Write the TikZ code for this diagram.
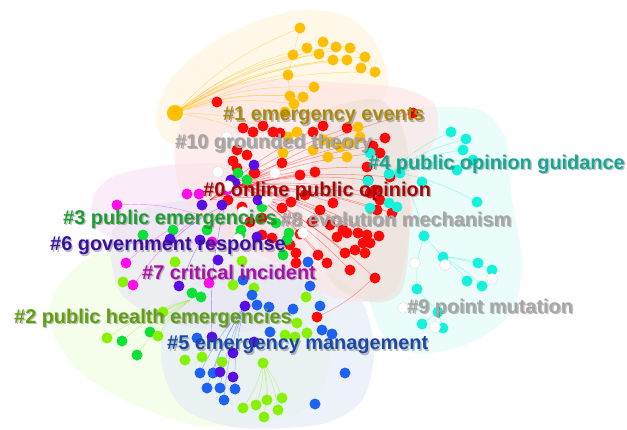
\documentclass[tikz,border=0pt]{standalone}
\usepackage{fontspec}
\setmainfont{Liberation Sans}
\usetikzlibrary{calc}
% cluster colours
\definecolor{cOrange}{HTML}{FFBE00}
\definecolor{cRed}{HTML}{FF0A0A}
\definecolor{cCyan}{HTML}{14F2DC}
\definecolor{cGreen}{HTML}{0EE03A}
\definecolor{cLime}{HTML}{86F200}
\definecolor{cBlue}{HTML}{1E62F2}
\definecolor{cPurple}{HTML}{5A0EE6}
\definecolor{cMagenta}{HTML}{FF0EEA}
% hull colours
\definecolor{hOrange}{HTML}{FFF3D8}
\definecolor{hRed}{HTML}{FCE2E2}
\definecolor{hBeige}{HTML}{EAE0D8}
\definecolor{hCyan}{HTML}{DEFCF7}
\definecolor{hMagenta}{HTML}{F8E2F6}
\definecolor{hPurple}{HTML}{E8E4F2}
\definecolor{hLime}{HTML}{EFFDDF}
\definecolor{hBlue}{HTML}{E2EAF8}
% label colours
\definecolor{lOrange}{HTML}{A88A10}
\definecolor{lGray}{HTML}{A6A6A6}
\definecolor{lTeal}{HTML}{12A894}
\definecolor{lRed}{HTML}{A80606}
\definecolor{lGreen}{HTML}{1C9E30}
\definecolor{lIndigo}{HTML}{3A0EA2}
\definecolor{lMagenta}{HTML}{AC0EAC}
\definecolor{lLime}{HTML}{5EA010}
\definecolor{lBlue}{HTML}{1A48A8}
\tikzset{
  hull/.style={fill=#1, fill opacity=0.6, draw=none},
  edge/.style={draw=#1, line width=0.45pt, draw opacity=0.45},
  clusterlabel/.style={anchor=west, inner sep=0pt, text=#1,
    font=\bfseries\fontsize{19.9}{20}\selectfont},
  labelshadow/.style={anchor=west, inner sep=0pt, text=black, text opacity=0.25,
    font=\bfseries\fontsize{19.9}{20}\selectfont},
}
\newcommand\nodedots[2]{\foreach \x/\y in {#2} \fill[#1] (\x,\y) circle[radius=5.5pt];}
\newcommand\whitedots[1]{\foreach \x/\y in {#1} \filldraw[fill=white, draw=black!12, line width=0.4pt] (\x,\y) circle[radius=5.5pt];}
% fan of links from one hub: colour, hub, bend, list of ends
\newcommand\fan[4]{\foreach \x/\y in {#4} \draw[edge=#1] (#2) to[#3] (\x,\y);}
\newcommand\labelat[4]{%
  \node[labelshadow] at ($(#1)+(1.4,1.4)$) {#4};
  \node[clusterlabel=#3] (#2) at (#1) {#4};}
\begin{document}
\begin{tikzpicture}[x=1pt,y=-1pt]
\fill[white] (0,0) rectangle (627,429);
\useasboundingbox (0,0) rectangle (627,429);

% ---- cluster hulls ----
\fill[hull=hLime] plot[smooth cycle] coordinates {(55,292) (92,256) (160,248) (250,258) (312,280) (332,330) (322,392) (282,420) (200,426) (128,402) (78,370) (52,330)};
\fill[hull=hBlue] plot[smooth cycle] coordinates {(165,312) (200,280) (262,265) (322,270) (362,302) (374,352) (362,400) (322,424) (240,428) (185,410) (163,370)};
\fill[hull=hOrange] plot[smooth cycle] coordinates {(156,118) (170,80) (210,44) (260,20) (305,10) (346,16) (374,40) (388,76) (382,100) (350,110) (300,116) (250,126) (208,142) (168,142)};
\fill[hull=hCyan] plot[smooth cycle] coordinates {(360,122) (420,108) (480,110) (506,140) (512,200) (522,262) (512,312) (472,342) (420,354) (384,336) (367,290) (361,230) (350,170)};
\fill[hull=hMagenta] plot[smooth cycle] coordinates {(92,202) (110,178) (160,166) (230,164) (282,180) (302,214) (282,246) (220,252) (150,246) (100,232)};
\fill[hull=hPurple] plot[smooth cycle] coordinates {(112,232) (150,206) (220,200) (292,214) (306,262) (292,312) (240,332) (170,322) (120,292)};
\fill[hull=hRed] plot[smooth cycle] coordinates {(200,94) (260,80) (330,82) (400,88) (434,104) (437,136) (420,166) (410,230) (396,290) (360,302) (320,292) (290,270) (250,250) (210,226) (180,190) (176,140)};
\fill[hull=hBeige, fill opacity=0.55] plot[smooth cycle] coordinates {(322,112) (380,100) (406,140) (410,220) (402,290) (372,302) (332,282) (314,222) (312,152)};

% ---- links ----
\fan{cOrange}{175,113}{bend left=12}{300/28,293/55,307/48,288/75,336/47,319/54,333/60,347/60,350/48,290/96,303/97,365/57,375/72,314/87,294/104,283/153,288/137}
\draw[edge=cOrange] (300,28) -- (293,55) -- (288,75) -- (290,96);
\draw[edge=cOrange] (323,42) -- (350,48) -- (365,57) -- (375,72);
\fan{cRed}{240,185}{bend left=8}{385/138,373/146,380/153,367/167,368/180,370/193,380/200,390/177,333/203,347/233,358/233,367/235,379/236,345/253,350/270,375/278,377/210,392/213,327/263,318/255,413/113}
\fan{cRed}{210,200}{bend left=8}{300/175,315/172,282/163,323/126,347/128,291/202}
\draw[edge=cRed] (374,277) to[bend left=10] (317,317);
\fan{cCyan}{389,174}{bend left=10}{451/132,466/139,463/150,473/160,457/170}
\fan{cCyan}{400,173}{bend left=8}{477/202,424/236,370/208}
\fan{cCyan}{443,257}{bend left=8}{478/263,492/270,467/281,482/286}
\draw[edge=cCyan] (424,236) -- (443,257);
\draw[edge=cCyan] (417,289) -- (438,312) -- (422,324);
\draw[edge=cCyan] (438,312) -- (443,328);
\draw[edge=cCyan] (424,236) to[bend right=10] (417,289);
\fan{cLime}{263,363}{bend left=10}{243/408,256/405,267/400,282/398,278/410,264/417}
\fan{cLime}{190,300}{bend right=10}{107/338,122/341,137/355,150/332,158/336,163/312}
\fan{cBlue}{245,306}{bend right=8}{200/373,213/373,207/388,220/388,235/389,224/400}
\fan{cMagenta}{200,215}{bend right=10}{117/205,126/263,134/285}
\fan{cPurple}{225,205}{bend right=8}{171/242,180/286,212/335}

% ---- nodes ----
\fill[cOrange] (175,113) circle[radius=8pt];
\nodedots{cOrange}{300/28,323/42,307/48,336/47,350/48,293/55,319/54,333/60,347/60,365/57,361/68,375/72,288/75,314/87,290/96,303/97,294/104,285/112,288/137,297/132,323/140,330/142,340/147,350/143,358/127,347/157,328/157,313/150,283/153,360/137}
\nodedots{cRed}{217/102,243/128,253/132,263/126,273/132,280/133,323/126,313/132,347/128,385/138,373/146,380/153,367/167,233/161,237/168,237/150,247/155,255/173,282/163,300/175,315/172,291/202,333/203,368/180,370/193,380/200,390/177,413/113,347/233,358/233,367/235,379/236,363/243,370/243,318/255,327/263,345/253,355/250,365/253,350/270,375/278,377/210,392/213,343/230,375/190,317/317,337/237,296/253,296/263,272/238,300/234,232/180,254/173,228/200,242/207,262/218,282/208,305/195,312/222,330/225,290/245,262/235,320/210,250/222}
\nodedots{cCyan}{451/132,466/139,463/150,473/160,457/170,370/153,368/181,389/174,400/173,422/182,477/202,389/203,397/207,370/208,424/236,443/257,478/263,492/270,467/281,482/286,417/289,422/324,443/328,438/312}
\nodedots{cGreen}{238/173,247/180,262/207,241/230,276/223,289/233,287/240,143/235,173/230,207/230,283/255,240/235,122/341,137/355,150/332,192/293,201/297}
\nodedots{cLime}{123/282,163/312,107/338,158/336,185/360,202/357,233/285,254/288,222/362,263/363,242/261,306/297,285/335,295/337,297/323,307/333,243/408,256/405,267/400,282/398,278/410,264/417,175/262}
\nodedots{cBlue}{200/373,213/373,207/388,220/388,235/389,224/400,197/338,257/305,269/307,293/309,270/332,308/262,310/286,320/306,332/334,322/330,252/295,243/280,345/373,315/404}
\nodedots{cPurple}{202/205,222/205,170/239,200/240,218/260,179/286,235/183,254/165,231/180,258/200,257/237,245/306,212/337,233/353,220/372,233/377,254/342}
\nodedots{cMagenta}{117/205,187/194,199/194,126/263,133/285,209/283,212/242,227/190}
\whitedots{415/263,445/265,492/279,403/308,435/327,218/172,275/173,228/186,243/212,267/200,303/233,238/239,227/137}

% ---- cluster labels ----
\labelat{223,116}{l1}{lOrange}{\#1 emergency events}
\labelat{175,143}{l10}{lGray}{\#10 grounded theory}
\labelat{368,164}{l4}{lTeal}{\#4 public opinion guidance}
\labelat{203,191}{l0}{lRed}{\#0 online public opinion}
\labelat{63,219}{l3}{lGreen}{\#3 public emergencies}
\labelat{280,219}{l8}{lGray}{\#8 evolution mechanism}
\labelat{50,246}{l6}{lIndigo}{\#6 government response}
\labelat{142,272}{l7}{lMagenta}{\#7 critical incident}
\labelat{407,308}{l9}{lGray}{\#9 point mutation}
\labelat{14,318}{l2}{lLime}{\#2 public health emergencies}
\labelat{167,345}{l5}{lBlue}{\#5 emergency management}
\end{tikzpicture}
\end{document}
